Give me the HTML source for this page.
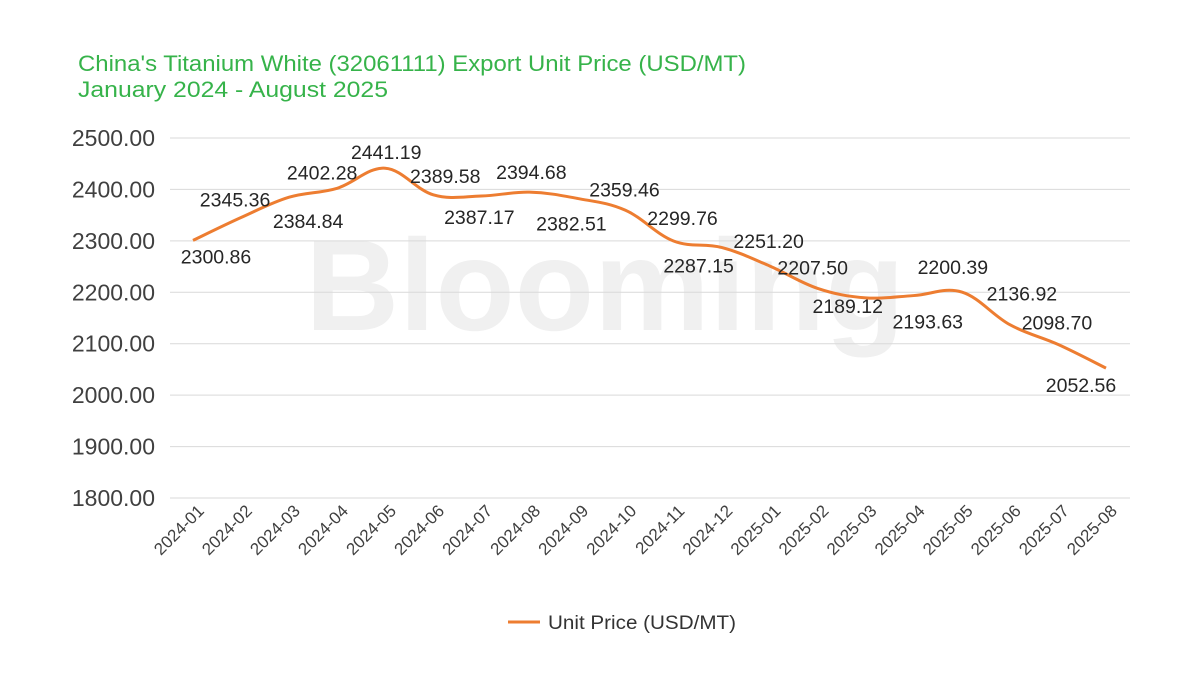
<!DOCTYPE html>
<html><head><meta charset="utf-8">
<style>
body{margin:0;background:#fff;font-family:"Liberation Sans",sans-serif;}
svg text{font-family:"Liberation Sans",sans-serif;}
</style></head>
<body>
<svg width="1200" height="675" viewBox="0 0 1200 675" xmlns="http://www.w3.org/2000/svg">
<text x="78" y="71" fill="#36b34a" font-size="22" textLength="668" lengthAdjust="spacingAndGlyphs">China's Titanium White (32061111) Export Unit Price (USD/MT)</text>
<text x="78" y="97" fill="#36b34a" font-size="22" textLength="310" lengthAdjust="spacingAndGlyphs">January 2024 - August 2025</text>
<text x="605" y="330" text-anchor="middle" fill="#f0f0f0" font-size="130" font-weight="bold">Blooming</text>
<g id="grid"></g><g id="xlab"></g><g id="series"></g><g id="labels"></g>
<line x1="508" y1="622" x2="540" y2="622" stroke="#ed7d31" stroke-width="3"/>
<text x="548" y="629" font-size="19" fill="#333" textLength="188" lengthAdjust="spacingAndGlyphs">Unit Price (USD/MT)</text>
</svg>
<script>
const categories=["2024-01","2024-02","2024-03","2024-04","2024-05","2024-06","2024-07","2024-08","2024-09","2024-10","2024-11","2024-12","2025-01","2025-02","2025-03","2025-04","2025-05","2025-06","2025-07","2025-08"];
const values=[2300.86,2345.36,2384.84,2402.28,2441.19,2389.58,2387.17,2394.68,2382.51,2359.46,2299.76,2287.15,2251.20,2207.50,2189.12,2193.63,2200.39,2136.92,2098.70,2052.56];
const yTicks=[1800,1900,2000,2100,2200,2300,2400,2500];
const labelDx=[23,-6,19,-15,1,12,-2,2,-6,-1,9,-23,-1,-5,-18,14,-9,12,-1,-25];
const labelDy=[23,-11,31,-9,-9,-12,28,-13,32,-14,-16,25,-18,-14,15,33,-18,-24,-15,24];
const ns="http://www.w3.org/2000/svg";
const x=i=>193+i*(1106-193)/(categories.length-1);
const y=v=>498-(v-1800)*(498-138)/700;
function mk(t,a,p){const e=document.createElementNS(ns,t);for(const k in a)e.setAttribute(k,a[k]);document.getElementById(p).appendChild(e);return e;}
yTicks.forEach(t=>{
 const l=mk('line',{x1:170,x2:1130,y1:y(t),y2:y(t),stroke:'#d9d9d9','stroke-width':1},'grid');
 
 
 const tx=mk('text',{x:155,y:y(t)+8,'text-anchor':'end','font-size':23,fill:'#404040'},'grid');
 tx.textContent=t.toFixed(2);
 
 
});
categories.forEach((c,i)=>{
 const tx=mk('text',{transform:`translate(${x(i)+12},${512}) rotate(-45)`,'text-anchor':'end','font-size':17,fill:'#404040'},'xlab');
 tx.textContent=c;
 
 
});
const pts=values.map((v,i)=>[x(i),y(v)]);
let d=`M${pts[0][0]},${pts[0][1]}`;
for(let i=0;i<pts.length-1;i++){
 const p0=pts[Math.max(0,i-1)],p1=pts[i],p2=pts[i+1],p3=pts[Math.min(pts.length-1,i+2)];
 const t=0.18;
 d+=` C${p1[0]+(p2[0]-p0[0])*t},${p1[1]+(p2[1]-p0[1])*t} ${p2[0]-(p3[0]-p1[0])*t},${p2[1]-(p3[1]-p1[1])*t} ${p2[0]},${p2[1]}`;
}
const path=mk('path',{d:d,fill:'none',stroke:'#ed7d31','stroke-width':3},'series');


values.forEach((v,i)=>{
 const tx=mk('text',{x:x(i)+labelDx[i],y:y(v)+labelDy[i],'text-anchor':'middle','font-size':19.5,fill:'#262626'},'labels');
 tx.textContent=v.toFixed(2);
 
 
});
</script>
</body></html>
